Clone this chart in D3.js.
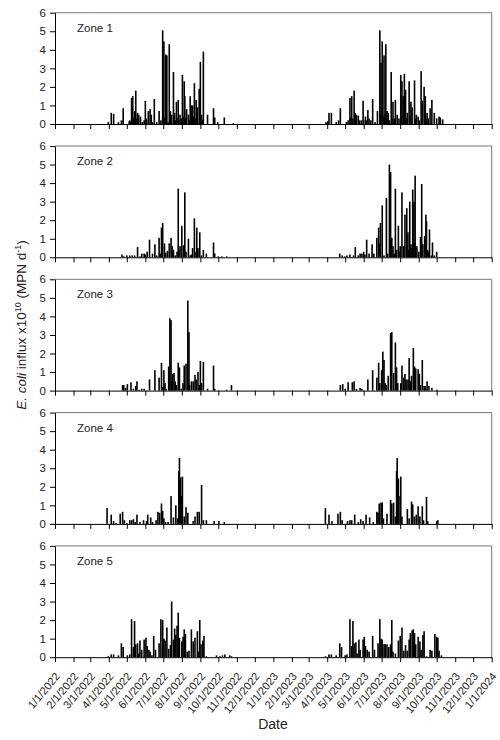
<!DOCTYPE html>
<html>
<head>
<meta charset="utf-8">
<script src="https://cdn.jsdelivr.net/npm/d3@7"></script>
<style>
  body { margin: 0; background: #fff; }
  svg { display: block; font-family: "Liberation Sans", Arial, sans-serif; }
</style>
</head>
<body>
<div id="chart-area"></div>
<script>
// daily influx values, as [days since 1/1/2022, value x10^10 MPN/d]
const zoneNames = ["Zone 1", "Zone 2", "Zone 3", "Zone 4", "Zone 5"]

const zone1 = [
  [89,0.1],[94,0.6],[98,0.55],[106,0.1],[111,0.2],[114,0.85],[124,0.15],[125,0.2],[126,0.1],
  [128,1.4],[130,1.5],[131,0.3],[133,0.7],[135,1.8],[136,0.3],[138,0.6],[140,0.5],[143,0.4],
  [146,0.1],[149,0.2],[151,1.25],[153,0.3],[156,0.7],[159,0.8],[161,0.5],[163,0.1],[166,1.35],
  [170,0.1],[174,0.7],[177,0.2],[180,5.05],[181,0.4],[182,4.45],[183,0.3],[185,3.75],[186,0.5],
  [187,3.7],[189,0.1],[191,4.3],[192,0.3],[193,0.7],[195,0.5],[198,2.8],[200,0.6],[201,0.2],
  [203,1.2],[204,0.3],[206,1.3],[207,0.2],[209,0.5],[211,0.3],[213,2.65],[214,0.4],[216,2.3],
  [217,1.5],[218,0.3],[220,0.8],[223,0.5],[224,0.2],[226,1.5],[227,0.3],[228,1.0],[230,1.0],
  [231,0.4],[233,2.2],[234,0.3],[236,1.3],[238,0.9],[241,1.9],[243,3.35],[245,0.5],[246,0.2],
  [248,3.9],[255,0.5],[265,0.85],[267,0.35],[272,0.1],[283,0.35],[298,0.05],
  [453,0.1],[456,0.15],[458,0.6],[462,0.6],[470,0.1],[474,0.2],[477,0.85],[487,0.1],[490,0.2],
  [493,1.4],[494,0.3],[496,1.5],[498,0.3],[500,1.8],[502,0.6],[504,0.5],[507,0.45],[509,0.2],
  [512,0.2],[515,1.25],[516,0.2],[519,0.4],[521,0.2],[523,0.75],[525,0.3],[528,0.2],[531,1.35],
  [535,0.1],[539,0.7],[543,5.05],[544,0.5],[545,3.3],[547,4.45],[548,0.4],[550,3.7],[551,0.5],
  [553,4.3],[554,0.3],[555,0.7],[557,0.6],[559,0.2],[562,2.8],[563,0.3],[565,1.2],[567,0.3],
  [569,1.3],[572,0.5],[575,0.3],[578,2.65],[579,0.4],[580,2.3],[582,1.5],[584,2.7],[586,1.85],
  [587,0.3],[589,0.6],[592,2.3],[593,0.4],[595,1.2],[597,0.9],[601,2.35],[602,0.3],[604,0.5],
  [607,0.4],[609,0.2],[612,2.85],[614,1.25],[617,2.0],[619,1.5],[620,0.3],[622,0.6],[624,0.3],
  [627,0.85],[630,1.3],[634,0.6],[638,0.3],[642,0.4],[644,0.35],[648,0.25]
]

const zone2 = [
  [112,0.15],[115,0.05],[120,0.1],[125,0.1],[129,0.1],[133,0.1],[138,0.55],[142,0.05],[145,0.2],
  [149,0.2],[151,0.15],[154,0.3],[158,0.95],[163,0.2],[167,0.7],[170,0.1],[174,1.05],[176,0.2],
  [178,1.6],[180,1.85],[183,0.75],[185,0.25],[188,0.35],[191,0.75],[194,1.05],[196,0.6],[198,0.4],
  [201,0.1],[204,0.3],[206,3.7],[207,0.4],[209,0.6],[212,1.7],[215,0.65],[217,3.5],[219,0.3],
  [223,1.0],[226,0.1],[228,0.15],[230,0.5],[233,2.1],[234,0.3],[237,1.6],[238,0.4],[239,0.5],
  [242,1.35],[245,0.1],[248,0.4],[253,0.2],[265,0.8],[267,0.2],[273,0.05],[279,0.05],[287,0.05],
  [476,0.2],[480,0.1],[484,0.05],[488,0.1],[493,0.15],[499,0.1],[502,0.55],[507,0.1],[510,0.2],
  [513,0.2],[516,0.3],[518,0.15],[521,0.95],[525,0.2],[530,0.7],[533,0.2],[538,1.05],[541,1.6],
  [543,0.75],[544,1.85],[547,2.8],[550,0.1],[554,3.2],[556,0.2],[559,5.0],[561,4.6],[563,1.05],
  [565,0.6],[567,0.2],[569,3.7],[571,0.4],[574,1.7],[575,0.3],[577,0.6],[580,3.5],[583,0.6],
  [585,2.3],[588,2.65],[590,1.35],[591,0.4],[593,3.0],[595,0.7],[596,0.5],[598,3.65],[600,3.0],
  [601,0.8],[602,4.4],[603,0.5],[605,0.6],[608,0.3],[611,1.1],[613,3.95],[615,0.7],[618,1.15],
  [620,2.3],[621,1.95],[623,0.4],[624,0.3],[626,1.5],[629,0.1],[631,0.8],[634,0.1],[638,0.3]
]

const zone3 = [
  [113,0.3],[115,0.3],[118,0.15],[121,0.35],[127,0.45],[131,0.1],[135,0.25],[137,0.5],[141,0.05],
  [145,0.1],[149,0.1],[158,0.6],[167,1.1],[174,0.7],[178,1.5],[180,0.2],[182,1.1],[184,0.4],
  [186,0.1],[190,1.3],[192,3.9],[194,3.8],[195,0.5],[197,0.9],[199,0.95],[201,0.5],[203,0.3],
  [206,1.5],[208,1.25],[211,0.1],[214,0.4],[216,1.35],[219,1.45],[222,4.85],[224,3.15],[225,0.3],
  [228,0.5],[231,0.5],[234,0.85],[236,0.6],[239,1.0],[241,0.3],[243,1.6],[245,0.4],[248,1.55],
  [255,0.1],[265,1.35],[267,0.1],[287,0.05],[295,0.3],
  [477,0.3],[481,0.35],[485,0.1],[490,0.45],[497,0.45],[500,0.5],[504,0.1],[510,0.15],[513,0.1],
  [523,0.6],[531,1.1],[538,0.7],[541,1.5],[543,0.4],[546,1.1],[548,2.1],[550,1.65],[552,0.4],
  [554,0.3],[557,0.8],[561,3.1],[563,3.15],[566,0.95],[569,2.6],[571,1.25],[573,0.4],[578,0.4],
  [580,1.35],[583,0.7],[585,0.9],[587,0.6],[590,0.6],[592,1.75],[594,0.5],[596,0.8],[599,2.3],
  [601,1.3],[603,1.2],[607,1.15],[609,0.9],[611,0.3],[614,1.65],[617,0.25],[619,0.25],[622,0.5],
  [625,0.25],[630,0.15],[638,0.05]
]

const zone4 = [
  [87,0.85],[94,0.5],[98,0.15],[102,0.05],[109,0.55],[113,0.65],[116,0.2],[120,0.05],[125,0.2],
  [128,0.2],[131,0.25],[134,0.1],[137,0.5],[142,0.1],[148,0.2],[153,0.15],[155,0.5],[160,0.35],
  [163,0.1],[169,0.2],[172,0.65],[175,0.6],[178,1.1],[180,0.7],[182,0.3],[185,0.1],[189,0.1],
  [194,1.5],[198,0.35],[202,1.0],[205,0.3],[207,2.85],[208,3.55],[210,2.5],[212,1.5],[213,2.55],
  [216,0.4],[219,0.9],[222,0.6],[231,0.15],[234,0.4],[238,0.65],[241,0.65],[245,2.1],[248,0.2],
  [253,0.2],[266,0.15],[274,0.15],[283,0.1],
  [452,0.85],[458,0.5],[463,0.15],[473,0.55],[477,0.65],[480,0.2],[489,0.15],[493,0.2],[496,0.2],
  [501,0.5],[507,0.1],[511,0.25],[515,0.15],[520,0.5],[526,0.35],[532,0.1],[538,0.65],[540,0.6],
  [542,1.1],[545,1.15],[547,1.15],[549,0.3],[555,0.55],[561,1.3],[563,1.1],[566,1.15],[569,0.4],
  [571,2.85],[572,3.55],[574,2.45],[575,1.5],[578,2.55],[580,0.4],[589,0.8],[592,0.3],[596,1.2],
  [598,1.05],[601,0.4],[604,0.5],[607,0.95],[610,0.4],[614,0.95],[616,0.2],[621,1.45],[623,0.15],
  [638,0.15],[640,0.2]
]

const zone5 = [
  [89,0.05],[94,0.15],[98,0.15],[106,0.1],[111,0.75],[114,0.55],[121,0.1],[125,0.15],[128,2.05],
  [131,0.55],[133,1.95],[135,0.7],[138,0.75],[140,0.2],[142,0.9],[145,0.4],[149,0.95],[152,1.05],
  [154,0.6],[157,0.4],[159,0.3],[162,0.1],[165,1.15],[168,0.4],[174,0.75],[177,2.05],[180,2.0],
  [182,1.0],[184,0.9],[187,1.6],[190,0.45],[193,0.65],[195,3.0],[198,0.95],[200,1.55],[202,1.2],
  [204,1.7],[206,2.4],[208,1.05],[212,0.85],[214,1.1],[216,1.5],[218,1.25],[221,0.3],[224,0.35],
  [228,1.5],[231,0.85],[234,1.05],[238,1.4],[240,0.3],[242,2.0],[244,0.7],[247,0.9],[249,1.15],
  [253,0.05],[270,0.1],[276,0.05],[280,0.1],[284,0.15],[292,0.1],[295,0.05],
  [452,0.05],[458,0.15],[462,0.15],[470,0.1],[476,0.75],[479,0.55],[485,0.1],[488,0.15],[493,2.05],
  [496,0.6],[498,1.95],[500,0.75],[503,0.8],[505,0.2],[508,0.95],[510,0.4],[515,0.95],[517,1.1],
  [519,0.6],[522,0.4],[525,0.3],[531,1.15],[534,0.4],[540,0.75],[543,2.05],[545,1.0],[547,0.95],
  [550,0.7],[552,0.7],[555,0.7],[558,0.55],[561,0.7],[563,2.0],[565,0.3],[569,0.2],[574,0.9],
  [577,1.15],[580,1.6],[583,0.35],[586,0.65],[589,0.35],[592,0.95],[594,1.3],[597,1.45],[599,1.5],
  [601,1.3],[603,0.7],[607,1.1],[610,0.85],[612,0.4],[615,1.2],[617,1.4],[621,0.05],[627,0.4],
  [630,0.35],[635,1.25],[638,1.1],[640,1.05],[642,0.35],[646,0.1]
]

const zones = [zone1, zone2, zone3, zone4, zone5]
const yTicks = [0, 1, 2, 3, 4, 5, 6]
const startDate = new Date(2022, 0, 1)
const endDate = new Date(2024, 0, 1)

const width = 500, height = 740
const left = 55, right = 491.7
const panelTop = 12.7, panelStep = 133.3, panelH = 111.3

const svg = d3.select("#chart-area").append("svg")
  .attr("width", width)
  .attr("height", height)

const x = d3.scaleTime()
  .domain([startDate, endDate])
  .range([left, right])

const monthTicks = d3.timeMonth.range(startDate, d3.timeDay.offset(endDate, 1))
const fmt = d3.timeFormat("%-m/%-d/%Y")

zones.forEach((data, i) => {
  const top = panelTop + i * panelStep
  const bottom = top + panelH
  const y = d3.scaleLinear().domain([0, 6]).range([bottom, top])

  const g = svg.append("g")

  // gray frame on top and right
  g.append("path")
    .attr("d", `M${left},${top}H${right}V${bottom}`)
    .attr("fill", "none")
    .attr("stroke", "#777")
    .attr("stroke-width", 1)

  // bars
  g.selectAll("rect.bar")
    .data(data)
    .enter().append("rect")
    .attr("class", "bar")
    .attr("x", d => x(d3.timeDay.offset(startDate, d[0])) - 0.8)
    .attr("width", 1.6)
    .attr("y", d => y(d[1]))
    .attr("height", d => y(0) - y(d[1]))
    .attr("fill", "#000")

  // y axis
  const yAxis = g.append("g")
    .attr("transform", `translate(${left},0)`)
    .call(d3.axisLeft(y).tickValues(yTicks).tickFormat(d3.format("d"))
      .tickSize(5).tickSizeOuter(0).tickPadding(4))
  yAxis.select(".domain").attr("stroke", "#000")
  yAxis.selectAll("text")
    .attr("font-size", 11.5)
    .attr("fill", "#222")
    .attr("font-family", "Liberation Sans, Arial, sans-serif")

  // x axis
  const xAxis = g.append("g")
    .attr("transform", `translate(0,${bottom})`)
    .call(d3.axisBottom(x).tickValues(monthTicks).tickSize(5).tickSizeOuter(0).tickFormat(i === 4 ? fmt : ""))
  xAxis.select(".domain").attr("stroke", "#000")

  if (i === 4) {
    xAxis.selectAll("text")
      .attr("font-size", 11)
      .attr("fill", "#222")
      .attr("font-family", "Liberation Sans, Arial, sans-serif")
      .attr("text-anchor", "end")
      .attr("transform", "translate(2,17) rotate(-50)")
      .attr("dy", "0.35em")
      .attr("y", 0)
  }

  g.append("text")
    .attr("x", 77)
    .attr("y", top + 19)
    .attr("font-size", 11.5)
    .attr("fill", "#222")
    .text(zoneNames[i])
})

// axis titles
svg.append("text")
  .attr("x", 273)
  .attr("y", 729)
  .attr("text-anchor", "middle")
  .attr("font-size", 14)
  .attr("fill", "#222")
  .text("Date")

const yTitle = svg.append("text")
  .attr("transform", "translate(26,325) rotate(-90)")
  .attr("text-anchor", "middle")
  .attr("font-size", 13.5)
  .attr("fill", "#222")
yTitle.append("tspan").attr("font-style", "italic").text("E. coli")
yTitle.append("tspan").text(" influx  x10")
yTitle.append("tspan").attr("font-size", 9).attr("dy", -5).text("10")
yTitle.append("tspan").attr("dy", 5).text(" (MPN d")
yTitle.append("tspan").attr("font-size", 9).attr("dy", -5).text("-1")
yTitle.append("tspan").attr("dy", 5).text(")")
</script>
</body>
</html>
